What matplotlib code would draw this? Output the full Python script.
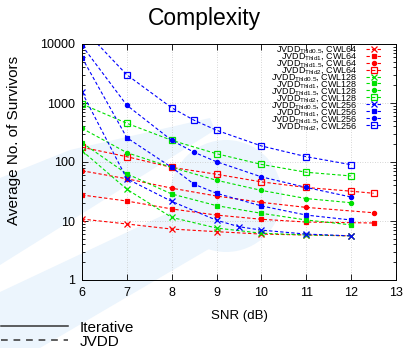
import matplotlib
matplotlib.use("Agg")
import matplotlib.pyplot as plt
from matplotlib.lines import Line2D
from matplotlib.patches import Polygon, Ellipse

plt.rcParams['font.family'] = ['Liberation Sans', 'DejaVu Sans']
plt.rcParams['mathtext.fontset'] = 'custom'
plt.rcParams['mathtext.rm'] = 'Liberation Sans'
plt.rcParams['mathtext.it'] = 'Liberation Sans'

# ---- data: average number of survivors vs SNR ----
# CWL64 (red)
r_thld05_x = [6, 7, 8, 9, 10, 11, 12]
r_thld05_y = [10.8, 8.9, 7.3, 6.6, 6.0, 5.8, 5.6]
r_thld1_x = [6, 7, 8, 9, 10, 11, 12.5]
r_thld1_y = [27.6, 21.8, 16, 12.6, 10.7, 9.6, 9.25]
r_thld15_x = [6, 7, 8, 9, 10, 11, 12.5]
r_thld15_y = [71, 52, 36, 26.5, 20.7, 17, 13.8]
r_thld2_x = [6, 7, 8, 9, 10, 11, 12, 12.5]
r_thld2_y = [178, 123, 81, 62, 46, 37, 32, 29.5]

# CWL128 (green)
g_x = [6, 7, 8, 9, 10, 11, 12]
g_thld05_y = [155, 34.5, 11.5, 7.6, 6.2, 5.8, 5.6]
g_thld1_y = [212, 63, 28.7, 18.2, 13.5, 10.4, 8.6]
g_thld15_y = [372, 144, 81, 49, 33, 24, 20.4]
g_thld2_y = [960, 453, 233, 138, 91, 67, 58]

# CWL256 (blue)
b_thld05_x = [6, 7, 8, 9, 9.5, 10, 11, 12]
b_thld05_y = [1515, 52, 21.5, 10.3, 8.0, 7.0, 6.0, 5.6]
b_x = [6, 7, 8, 8.5, 9, 10, 11, 12]
b_thld1_y = [5870, 258, 81, 42, 29.5, 18, 12.6, 10.4]
b_thld15_y = [9400, 915, 233, 146, 101, 56, 37, 25.5]
b_thld2_y = [19000, 3000, 830, 510, 345, 187, 123, 90]

thresholds = ['0.5', '1', '1.5', '2']
markers = ['x', 's', 'o', 's']
filled = [True, True, True, False]
msizes = [4.0, 3.0, 3.0, 4.6]

groups = [
    ('CWL64', '#ff0000', [(r_thld05_x, r_thld05_y), (r_thld1_x, r_thld1_y),
                          (r_thld15_x, r_thld15_y), (r_thld2_x, r_thld2_y)]),
    ('CWL128', '#00e000', [(g_x, g_thld05_y), (g_x, g_thld1_y),
                           (g_x, g_thld15_y), (g_x, g_thld2_y)]),
    ('CWL256', '#0000ff', [(b_thld05_x, b_thld05_y), (b_x, b_thld1_y),
                           (b_x, b_thld15_y), (b_x, b_thld2_y)]),
]

W, H = 404, 348
fig = plt.figure(figsize=(W / 100, H / 100), dpi=100)


def fpt(px, py):
    return (px / W, 1 - py / H)


# pale decorative background behind the plot
bg = '#ecf5fd'
shapes = [
    Polygon([fpt(0, 178), fpt(70, 150), fpt(210, 118), fpt(215, 130),
             fpt(80, 215), fpt(0, 265)], closed=True),
    Polygon([fpt(0, 292), fpt(255, 172), fpt(272, 212), fpt(40, 348),
             fpt(0, 348)], closed=True),
    Ellipse(fpt(226, 196), 112 / W, 112 / H),
]
for p in shapes:
    p.set_transform(fig.transFigure)
    p.set_facecolor(bg)
    p.set_edgecolor('none')
    p.set_zorder(-5)
    fig.patches.append(p)

ax = fig.add_axes([82 / W, 1 - 280 / H, (396 - 82) / W, (280 - 44) / H])
ax.patch.set_alpha(0)

handles = []
labels = []
for cwl, color, series in groups:
    for thr, mk, fl, ms, (xs, ys) in zip(thresholds, markers, filled, msizes, series):
        ln, = ax.plot(xs, ys, linestyle=(0, (3, 2)), linewidth=0.8, color=color,
                      marker=mk, markersize=ms,
                      markerfacecolor=color if fl else 'none',
                      markeredgecolor=color, markeredgewidth=0.9)
        handles.append(ln)
        labels.append(r'JVDD$_{\mathrm{Thld' + thr + r'}}$, ' + cwl)

ax.set_yscale('log')
ax.set_xlim(6, 13)
ax.set_ylim(1, 10000)
ax.set_xticks(range(6, 14))
ax.set_yticks([1, 10, 100, 1000, 10000])
ax.set_yticklabels(['1', '10', '100', '1000', '10000'])
ax.tick_params(which='both', direction='in', top=True, right=True,
               labelsize=9, pad=5)
ax.tick_params(which='major', length=4, width=0.6)
ax.tick_params(which='minor', length=2, width=0.6)
ax.xaxis.set_minor_locator(matplotlib.ticker.NullLocator())
ax.grid(True, which='major', color='#c8c8c8', linestyle=(0, (1, 2)), linewidth=0.6)
for s in ax.spines.values():
    s.set_linewidth(0.7)

ax.set_xlabel('SNR (dB)', fontsize=9.5, labelpad=8)
ax.set_ylabel('Average No. of Survivors', fontsize=11)
ax.yaxis.set_label_coords(-0.195, 0.59)
fig.text(204 / W, 1 - 18 / H, 'Complexity', fontsize=16.5, ha='center', va='center')

leg = ax.legend(handles, labels, loc='upper right', bbox_to_anchor=(0.955, 0.998),
                frameon=False, fontsize=6.5, markerfirst=False,
                labelspacing=-0.45, handlelength=1.8, handletextpad=0.9,
                borderaxespad=0.0, borderpad=0.0)

# line-style key below the axes
key = [Line2D([], [], color='#333333', linewidth=1.1, linestyle='-'),
       Line2D([], [], color='#333333', linewidth=1.1, linestyle=(0, (4.4, 3.8)))]
fig.legend(key, ['Iterative', 'JVDD'], loc='lower left',
           bbox_to_anchor=(-0.02, -0.028), frameon=False, fontsize=11,
           handlelength=4.4, handletextpad=0.75, labelspacing=0.0,
           borderpad=0.1)

fig.savefig('out.png', dpi=100)
